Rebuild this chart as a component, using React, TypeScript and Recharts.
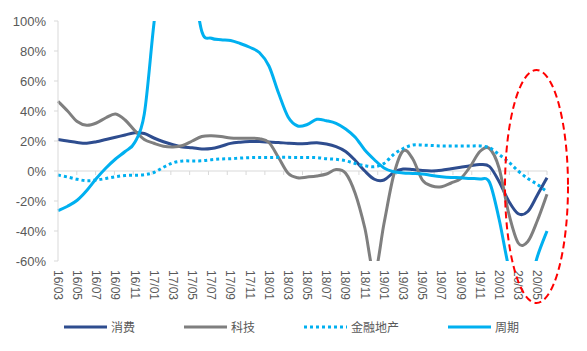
import { LineChart, Line, XAxis, YAxis, ReferenceLine, Legend } from "recharts";

// 月份（2016/03 - 2020/06），横轴隔月显示标签
const months = [
  "16/03", "16/04", "16/05", "16/06", "16/07", "16/08", "16/09", "16/10", "16/11", "16/12",
  "17/01", "17/02", "17/03", "17/04", "17/05", "17/06", "17/07", "17/08", "17/09", "17/10", "17/11", "17/12",
  "18/01", "18/02", "18/03", "18/04", "18/05", "18/06", "18/07", "18/08", "18/09", "18/10", "18/11", "18/12",
  "19/01", "19/02", "19/03", "19/04", "19/05", "19/06", "19/07", "19/08", "19/09", "19/10", "19/11", "19/12",
  "20/01", "20/02", "20/03", "20/04", "20/05", "20/06",
];

const consumption = [
  21, 20, 19, 18.5, 19.5, 21, 22.5, 24, 25.5, 25,
  22, 19.5, 17.5, 16, 15.5, 14.7, 15, 16.5, 18.4, 19.2, 19.6, 19.6,
  19.3, 19, 18.5, 18.2, 18.4, 18.9, 18, 16.2, 13, 7, 0, -5.5,
  -6, -1, 1.3, 1, 0.3, 0, 0.5, 1.5, 2.5, 3.5, 4.3, 3,
  -7, -20, -28.5, -27, -16, -4.5,
];

const tech = [
  46.5, 40, 33, 30.5, 32, 35.5, 38, 34, 27, 21,
  18.5, 16.5, 16, 17, 20, 23, 23.5, 23, 22, 21.8, 21.8, 21.5,
  19, 9, -1.5, -4.5, -4, -3.3, -2, 1, -1.5, -15, -38, -68,
  -35, -3, 13.5, 8, -6, -10, -10.5, -8, -5, 3, 13, 15,
  2, -28, -48, -47, -33, -15.5,
];

const finance = [
  -2.7, -4, -5.5, -6.5, -6, -5, -3.8, -3, -2.8, -2.5,
  -1, 2.5, 5.5, 6.7, 6.7, 6.8, 7.5, 8, 8.2, 8.6, 8.9, 9,
  9, 9.1, 9.1, 9, 9, 8.9, 8.2, 7.8, 6.8, 5, 3.5, 2.9,
  5, 11, 15, 17.3, 17.3, 17, 16.7, 16.7, 16.7, 16.7, 16.7, 15.5,
  11, 6, 0, -5, -9, -13.8,
];

const cyclical = [
  -26.5, -23.5, -19.5, -13, -5, 2, 8, 13, 19, 38,
  98, 150, 170, 160, 130, 93, 88.5, 87.5, 87, 85, 82.5, 79,
  70, 52, 36, 30, 31, 34.5, 33.5, 31.8, 28, 22.5, 14, 7.5,
  2, -0.5, -1.3, -1.6, -2, -3, -3.8, -4.3, -4.5, -5, -5.3, -7.5,
  -32, -64, -85, -80, -57, -40,
];

const yTicks = [-60, -40, -20, 0, 20, 40, 60, 80, 100];

const series = [
  { key: "consumption", name: "消费", color: "#2E4D8F", dash: undefined },
  { key: "tech", name: "科技", color: "#7F7F7F", dash: undefined },
  { key: "finance", name: "金融地产", color: "#00B0F0", dash: "3 3" },
  { key: "cyclical", name: "周期", color: "#00B0F0", dash: undefined },
];

const data = months.map((m, i) => ({
  month: m,
  consumption: consumption[i],
  tech: tech[i],
  finance: finance[i],
  cyclical: cyclical[i],
}));

const axisColor = "#D9D9D9";
const textColor = "#595959";
const latin = "'Liberation Sans', Arial, sans-serif";

// Excel-like smoothed line (Catmull-Rom through every point)
const smooth = (context: any) => {
  let xs: number[] = [];
  let ys: number[] = [];
  return {
    areaStart() {},
    areaEnd() {},
    lineStart() {
      xs = [];
      ys = [];
    },
    point(x: number, y: number) {
      xs.push(+x);
      ys.push(+y);
    },
    lineEnd() {
      const n = xs.length;
      if (!n) return;
      context.moveTo(xs[0], ys[0]);
      for (let i = 0; i < n - 1; i++) {
        const a = Math.max(i - 1, 0);
        const d = Math.min(i + 2, n - 1);
        context.bezierCurveTo(
          xs[i] + (xs[i + 1] - xs[a]) / 6,
          ys[i] + (ys[i + 1] - ys[a]) / 6,
          xs[i + 1] - (xs[d] - xs[i]) / 6,
          ys[i + 1] - (ys[d] - ys[i]) / 6,
          xs[i + 1],
          ys[i + 1]
        );
      }
    },
  };
};

const MonthTick = ({ x, y, payload }: any) => (
  <text
    transform={`translate(${x},${y}) rotate(90)`}
    dy="0.35em"
    textAnchor="start"
    fontSize={12}
    fontFamily={latin}
    fill={textColor}
  >
    {payload.value}
  </text>
);

// x axis line sits on 0%, tick marks between every pair of months
const ZeroAxis = (p: any) => {
  const { x1, x2, y1 } = p;
  const n = months.length / 2;
  const step = (x2 - x1) / n;
  const marks = [];
  for (let k = 1; k <= n; k++) {
    const x = x1 + step * k;
    marks.push(<line key={k} x1={x} x2={x} y1={y1} y2={y1 + 4} stroke={axisColor} />);
  }
  return (
    <g>
      <line x1={x1} x2={x2} y1={y1} y2={y1} stroke={axisColor} />
      {marks}
    </g>
  );
};

const LegendContent = () => (
  <div style={{ display: "flex", gap: 49, paddingLeft: 64, paddingTop: 3, height: 31 }}>
    {series.map((s) => (
      <div key={s.key} style={{ display: "flex", alignItems: "center", height: 14 }}>
        <svg width={43} height={6}>
          <line x1={0} x2={43} y1={3} y2={3} stroke={s.color} strokeWidth={3} strokeDasharray={s.dash} />
        </svg>
        <span
          style={{
            marginLeft: 4,
            fontSize: 12,
            color: textColor,
            fontFamily: "'Noto Sans CJK SC', sans-serif",
            lineHeight: "14px",
          }}
        >
          {s.name}
        </span>
      </div>
    ))}
  </div>
);

export default function App() {
  return (
    <div style={{ position: "absolute", left: 0, top: 0, width: 587, height: 351, background: "#fff" }}>
      <LineChart width={587} height={351} data={data} margin={{ top: 21, right: 40, bottom: 0, left: 0 }}>
        <XAxis
          dataKey="month"
          interval={1}
          axisLine={false}
          tickLine={false}
          tickSize={0}
          tickMargin={9}
          height={56}
          tick={<MonthTick />}
        />
        <YAxis
          domain={[-60, 100]}
          ticks={yTicks}
          allowDataOverflow
          width={58}
          tickFormatter={(v) => `${v}%`}
          axisLine={{ stroke: axisColor }}
          tickLine={{ stroke: axisColor }}
          tickSize={4}
          tickMargin={8}
          tick={{ fontSize: 13, fill: textColor, fontFamily: latin }}
        />
        <ReferenceLine y={0} shape={ZeroAxis} />
        {series.map((s) => (
          <Line
            key={s.key}
            dataKey={s.key}
            name={s.name}
            type={smooth as any}
            stroke={s.color}
            strokeWidth={3}
            strokeDasharray={s.dash}
            dot={false}
            activeDot={false}
            isAnimationActive={false}
          />
        ))}
        <Legend verticalAlign="bottom" content={<LegendContent />} wrapperStyle={{ left: 0, width: 587 }} />
      </LineChart>
      <svg width={587} height={351} style={{ position: "absolute", left: 0, top: 0, pointerEvents: "none" }}>
        <ellipse cx={536.5} cy={186.5} rx={31.5} ry={116.5} fill="none" stroke="#FF0000" strokeWidth={2} strokeDasharray="7 4" />
      </svg>
    </div>
  );
}
